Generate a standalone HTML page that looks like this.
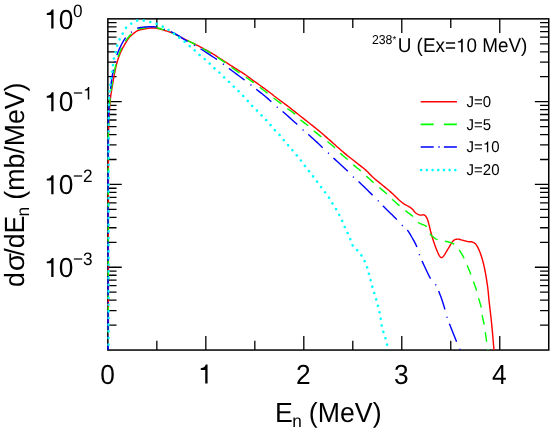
<!DOCTYPE html>
<html><head><meta charset="utf-8"><title>plot</title>
<style>html,body{margin:0;padding:0;background:#fff;}body{width:554px;height:431px;overflow:hidden;position:relative;font-family:"Liberation Sans",sans-serif;}</style>
</head><body>
<svg width="554" height="431" viewBox="0 0 554 431" style="position:absolute;left:0;top:0;will-change:transform">
<rect x="0" y="0" width="554" height="431" fill="#fff"/>
<rect x="107.85" y="18.85" width="440.90" height="331.20" fill="none" stroke="#000" stroke-width="1.5"/>
<path d="M156.84 350.05 V340.85 M156.84 18.85 V28.05 M205.83 350.05 V335.95 M205.83 18.85 V32.95 M254.82 350.05 V340.85 M254.82 18.85 V28.05 M303.81 350.05 V335.95 M303.81 18.85 V32.95 M352.79 350.05 V340.85 M352.79 18.85 V28.05 M401.78 350.05 V335.95 M401.78 18.85 V32.95 M450.77 350.05 V340.85 M450.77 18.85 V28.05 M499.76 350.05 V335.95 M499.76 18.85 V32.95 M107.85 76.72 H116.55 M548.75 76.72 H540.05 M107.85 62.14 H116.55 M548.75 62.14 H540.05 M107.85 51.80 H116.55 M548.75 51.80 H540.05 M107.85 43.78 H116.55 M548.75 43.78 H540.05 M107.85 37.22 H116.55 M548.75 37.22 H540.05 M107.85 31.68 H116.55 M548.75 31.68 H540.05 M107.85 26.87 H116.55 M548.75 26.87 H540.05 M107.85 22.64 H116.55 M548.75 22.64 H540.05 M107.85 101.65 H121.75 M548.75 101.65 H534.85 M107.85 159.52 H116.55 M548.75 159.52 H540.05 M107.85 144.94 H116.55 M548.75 144.94 H540.05 M107.85 134.60 H116.55 M548.75 134.60 H540.05 M107.85 126.58 H116.55 M548.75 126.58 H540.05 M107.85 120.02 H116.55 M548.75 120.02 H540.05 M107.85 114.48 H116.55 M548.75 114.48 H540.05 M107.85 109.67 H116.55 M548.75 109.67 H540.05 M107.85 105.44 H116.55 M548.75 105.44 H540.05 M107.85 184.45 H121.75 M548.75 184.45 H534.85 M107.85 242.32 H116.55 M548.75 242.32 H540.05 M107.85 227.74 H116.55 M548.75 227.74 H540.05 M107.85 217.40 H116.55 M548.75 217.40 H540.05 M107.85 209.38 H116.55 M548.75 209.38 H540.05 M107.85 202.82 H116.55 M548.75 202.82 H540.05 M107.85 197.28 H116.55 M548.75 197.28 H540.05 M107.85 192.47 H116.55 M548.75 192.47 H540.05 M107.85 188.24 H116.55 M548.75 188.24 H540.05 M107.85 267.25 H121.75 M548.75 267.25 H534.85 M107.85 325.12 H116.55 M548.75 325.12 H540.05 M107.85 310.54 H116.55 M548.75 310.54 H540.05 M107.85 300.20 H116.55 M548.75 300.20 H540.05 M107.85 292.18 H116.55 M548.75 292.18 H540.05 M107.85 285.62 H116.55 M548.75 285.62 H540.05 M107.85 280.08 H116.55 M548.75 280.08 H540.05 M107.85 275.27 H116.55 M548.75 275.27 H540.05 M107.85 271.04 H116.55 M548.75 271.04 H540.05" stroke="#000" stroke-width="1.3" fill="none"/>
<clipPath id="c"><rect x="106.64999999999999" y="18.85" width="442.10" height="332.00"/></clipPath>
<g clip-path="url(#c)" fill="none" stroke-linejoin="round">
<path d="M108.40 332.00 L108.40 321.39 L108.40 306.83 L108.39 289.44 L108.39 270.38 L108.39 250.76 L108.39 231.73 L108.39 214.44 L108.40 200.00 L108.41 188.00 L108.40 177.17 L108.40 167.39 L108.40 158.54 L108.41 150.49 L108.45 143.14 L108.51 136.35 L108.60 130.00 L108.73 124.34 L108.90 119.58 L109.09 115.57 L109.30 112.16 L109.52 109.19 L109.75 106.51 L109.98 103.96 L110.20 101.40 L110.41 98.99 L110.63 96.94 L110.85 95.19 L111.08 93.65 L111.30 92.24 L111.53 90.88 L111.76 89.49 L112.00 88.00 L112.24 86.45 L112.47 84.94 L112.71 83.47 L112.95 82.02 L113.20 80.58 L113.45 79.13 L113.72 77.68 L114.00 76.20 L114.29 74.68 L114.60 73.12 L114.92 71.54 L115.25 69.96 L115.58 68.40 L115.92 66.89 L116.26 65.45 L116.60 64.10 L116.93 62.85 L117.26 61.69 L117.58 60.59 L117.91 59.54 L118.25 58.52 L118.60 57.50 L118.99 56.47 L119.40 55.40 L119.84 54.30 L120.31 53.20 L120.79 52.09 L121.29 50.99 L121.82 49.88 L122.36 48.78 L122.92 47.69 L123.50 46.60 L124.12 45.49 L124.78 44.34 L125.47 43.18 L126.18 42.03 L126.88 40.92 L127.57 39.87 L128.21 38.93 L128.80 38.10 L129.33 37.41 L129.80 36.85 L130.24 36.38 L130.66 35.98 L131.07 35.62 L131.48 35.27 L131.92 34.91 L132.40 34.50 L132.92 34.05 L133.47 33.58 L134.04 33.11 L134.62 32.65 L135.20 32.21 L135.77 31.79 L136.30 31.42 L136.80 31.10 L137.25 30.84 L137.64 30.64 L138.01 30.48 L138.36 30.35 L138.72 30.24 L139.10 30.13 L139.52 30.03 L140.00 29.90 L140.55 29.76 L141.15 29.63 L141.79 29.50 L142.45 29.37 L143.12 29.24 L143.78 29.12 L144.41 29.01 L145.00 28.90 L145.55 28.79 L146.07 28.69 L146.57 28.59 L147.06 28.50 L147.54 28.41 L148.02 28.33 L148.51 28.26 L149.00 28.20 L149.51 28.15 L150.02 28.11 L150.54 28.07 L151.05 28.04 L151.56 28.02 L152.06 28.01 L152.54 28.00 L153.00 28.00 L153.42 28.00 L153.78 27.99 L154.11 27.98 L154.44 27.98 L154.79 28.00 L155.19 28.04 L155.65 28.10 L156.20 28.20 L156.84 28.33 L157.54 28.50 L158.30 28.68 L159.11 28.89 L159.96 29.12 L160.84 29.37 L161.76 29.63 L162.70 29.90 L163.70 30.19 L164.77 30.50 L165.90 30.82 L167.05 31.16 L168.20 31.51 L169.33 31.87 L170.40 32.24 L171.40 32.60 L172.31 32.96 L173.15 33.33 L173.95 33.69 L174.72 34.07 L175.48 34.45 L176.25 34.85 L177.05 35.27 L177.90 35.70 L178.79 36.16 L179.70 36.64 L180.63 37.13 L181.58 37.64 L182.54 38.16 L183.51 38.68 L184.50 39.19 L185.50 39.70 L186.52 40.20 L187.56 40.69 L188.61 41.18 L189.68 41.67 L190.76 42.16 L191.84 42.66 L192.92 43.18 L194.00 43.70 L195.08 44.24 L196.16 44.79 L197.25 45.34 L198.34 45.91 L199.44 46.48 L200.53 47.05 L201.62 47.62 L202.70 48.20 L203.78 48.77 L204.85 49.34 L205.93 49.91 L207.00 50.48 L208.07 51.06 L209.15 51.66 L210.22 52.27 L211.30 52.90 L212.38 53.56 L213.47 54.24 L214.56 54.93 L215.64 55.64 L216.73 56.36 L217.82 57.08 L218.91 57.79 L220.00 58.50 L221.09 59.20 L222.18 59.90 L223.27 60.60 L224.36 61.31 L225.44 62.01 L226.53 62.71 L227.62 63.40 L228.70 64.10 L229.79 64.80 L230.89 65.50 L231.99 66.20 L233.08 66.91 L234.17 67.60 L235.24 68.28 L236.28 68.95 L237.30 69.60 L238.27 70.21 L239.21 70.79 L240.11 71.35 L241.00 71.90 L241.89 72.46 L242.79 73.03 L243.73 73.64 L244.70 74.30 L245.72 75.01 L246.76 75.76 L247.83 76.55 L248.92 77.36 L250.01 78.17 L251.11 78.99 L252.21 79.81 L253.30 80.60 L254.38 81.38 L255.47 82.15 L256.56 82.92 L257.64 83.69 L258.73 84.46 L259.82 85.24 L260.91 86.02 L262.00 86.80 L263.11 87.61 L264.26 88.44 L265.42 89.29 L266.57 90.13 L267.69 90.96 L268.77 91.76 L269.78 92.51 L270.70 93.20 L271.46 93.78 L272.06 94.26 L272.56 94.66 L273.03 95.04 L273.53 95.45 L274.13 95.94 L274.90 96.54 L275.90 97.30 L277.14 98.23 L278.57 99.29 L280.14 100.45 L281.82 101.69 L283.58 102.99 L285.37 104.32 L287.15 105.67 L288.90 107.00 L290.63 108.34 L292.40 109.73 L294.19 111.15 L296.01 112.59 L297.83 114.04 L299.66 115.50 L301.49 116.96 L303.30 118.40 L305.12 119.84 L306.97 121.29 L308.83 122.75 L310.69 124.21 L312.53 125.66 L314.33 127.09 L316.10 128.51 L317.80 129.90 L319.42 131.25 L320.96 132.54 L322.45 133.81 L323.91 135.07 L325.36 136.35 L326.85 137.64 L328.39 138.99 L330.00 140.40 L331.69 141.89 L333.44 143.45 L335.23 145.05 L337.06 146.69 L338.90 148.33 L340.74 149.96 L342.58 151.55 L344.40 153.10 L346.26 154.63 L348.19 156.19 L350.15 157.75 L352.10 159.28 L353.99 160.76 L355.79 162.15 L357.44 163.44 L358.90 164.60 L360.15 165.59 L361.21 166.42 L362.13 167.13 L362.96 167.77 L363.72 168.37 L364.47 168.99 L365.25 169.65 L366.10 170.40 L366.99 171.23 L367.86 172.10 L368.72 172.99 L369.59 173.90 L370.47 174.82 L371.37 175.75 L372.31 176.68 L373.30 177.60 L374.34 178.51 L375.41 179.42 L376.53 180.34 L377.66 181.26 L378.82 182.18 L379.98 183.11 L381.14 184.05 L382.30 185.00 L383.45 185.95 L384.61 186.90 L385.76 187.86 L386.93 188.82 L388.11 189.81 L389.29 190.81 L390.49 191.84 L391.70 192.90 L392.93 194.03 L394.19 195.23 L395.47 196.47 L396.75 197.73 L398.03 198.97 L399.31 200.17 L400.57 201.29 L401.80 202.30 L403.04 203.21 L404.32 204.03 L405.60 204.79 L406.86 205.50 L408.08 206.17 L409.23 206.82 L410.27 207.46 L411.20 208.10 L411.98 208.75 L412.63 209.39 L413.19 210.01 L413.67 210.62 L414.11 211.20 L414.54 211.74 L415.00 212.24 L415.50 212.70 L416.04 213.11 L416.57 213.49 L417.11 213.83 L417.64 214.14 L418.18 214.41 L418.72 214.64 L419.26 214.84 L419.80 215.00 L420.36 215.09 L420.93 215.09 L421.51 215.03 L422.09 214.94 L422.66 214.87 L423.21 214.83 L423.73 214.86 L424.20 215.00 L424.63 215.22 L425.03 215.48 L425.39 215.79 L425.74 216.15 L426.06 216.57 L426.38 217.04 L426.69 217.59 L427.00 218.20 L427.30 218.90 L427.59 219.69 L427.87 220.55 L428.14 221.46 L428.41 222.42 L428.67 223.41 L428.93 224.41 L429.20 225.40 L429.46 226.39 L429.70 227.40 L429.93 228.42 L430.17 229.47 L430.41 230.55 L430.68 231.66 L430.97 232.81 L431.30 234.00 L431.67 235.27 L432.07 236.61 L432.51 238.00 L432.96 239.43 L433.42 240.85 L433.89 242.25 L434.35 243.61 L434.80 244.90 L435.25 246.15 L435.71 247.41 L436.18 248.65 L436.65 249.86 L437.11 251.00 L437.56 252.07 L437.99 253.05 L438.40 253.90 L438.78 254.65 L439.14 255.31 L439.48 255.88 L439.81 256.38 L440.13 256.78 L440.45 257.11 L440.77 257.35 L441.10 257.50 L441.43 257.57 L441.73 257.56 L442.03 257.46 L442.34 257.27 L442.66 257.01 L443.00 256.66 L443.38 256.22 L443.80 255.70 L444.28 255.06 L444.80 254.28 L445.36 253.40 L445.94 252.44 L446.53 251.44 L447.13 250.43 L447.73 249.44 L448.30 248.50 L448.86 247.56 L449.43 246.56 L449.99 245.54 L450.55 244.53 L451.11 243.56 L451.68 242.66 L452.24 241.86 L452.80 241.20 L453.36 240.67 L453.90 240.23 L454.44 239.89 L454.99 239.62 L455.54 239.42 L456.10 239.27 L456.69 239.17 L457.30 239.10 L457.94 239.09 L458.61 239.17 L459.29 239.30 L459.99 239.49 L460.70 239.70 L461.41 239.92 L462.11 240.12 L462.80 240.30 L463.49 240.46 L464.18 240.64 L464.87 240.82 L465.56 240.99 L466.25 241.17 L466.92 241.33 L467.57 241.48 L468.20 241.60 L468.81 241.69 L469.41 241.73 L469.99 241.75 L470.56 241.76 L471.12 241.78 L471.66 241.83 L472.19 241.93 L472.70 242.10 L473.19 242.31 L473.66 242.54 L474.12 242.79 L474.56 243.08 L474.99 243.43 L475.42 243.84 L475.86 244.32 L476.30 244.90 L476.75 245.56 L477.20 246.29 L477.65 247.08 L478.10 247.94 L478.55 248.88 L479.00 249.88 L479.45 250.95 L479.90 252.10 L480.36 253.33 L480.82 254.67 L481.29 256.08 L481.76 257.56 L482.22 259.08 L482.66 260.64 L483.09 262.22 L483.50 263.80 L483.89 265.41 L484.26 267.07 L484.62 268.77 L484.96 270.49 L485.29 272.22 L485.61 273.94 L485.91 275.64 L486.20 277.30 L486.47 278.94 L486.73 280.57 L486.97 282.19 L487.20 283.79 L487.42 285.38 L487.62 286.95 L487.81 288.49 L488.00 290.00 L488.16 291.40 L488.29 292.67 L488.41 293.87 L488.51 295.08 L488.62 296.34 L488.75 297.74 L488.91 299.34 L489.10 301.20 L489.34 303.32 L489.61 305.62 L489.90 308.10 L490.21 310.72 L490.54 313.47 L490.86 316.33 L491.19 319.28 L491.50 322.30 L491.82 325.64 L492.18 329.41 L492.54 333.42 L492.90 337.47 L493.24 341.35 L493.55 344.87 L493.81 347.82 L494.00 350.00" stroke="#ff0000" stroke-width="1.42"/>
<path d="M108.30 332.00 L108.30 321.39 L108.30 306.83 L108.30 289.44 L108.29 270.38 L108.29 250.76 L108.29 231.73 L108.30 214.44 L108.30 200.00 L108.30 188.00 L108.29 177.17 L108.27 167.39 L108.26 158.54 L108.26 150.49 L108.28 143.14 L108.32 136.35 L108.40 130.00 L108.51 124.34 L108.65 119.58 L108.82 115.57 L109.00 112.16 L109.20 109.19 L109.40 106.51 L109.60 103.96 L109.80 101.40 L110.00 98.99 L110.20 96.94 L110.41 95.19 L110.62 93.65 L110.83 92.24 L111.05 90.88 L111.28 89.49 L111.50 88.00 L111.72 86.45 L111.94 84.94 L112.17 83.47 L112.39 82.02 L112.63 80.58 L112.87 79.13 L113.13 77.68 L113.40 76.20 L113.69 74.68 L114.00 73.12 L114.32 71.54 L114.66 69.96 L114.99 68.40 L115.33 66.89 L115.67 65.45 L116.00 64.10 L116.31 62.86 L116.61 61.72 L116.90 60.65 L117.20 59.62 L117.51 58.62 L117.84 57.59 L118.20 56.53 L118.60 55.40 L119.04 54.18 L119.52 52.91 L120.03 51.59 L120.56 50.26 L121.11 48.94 L121.67 47.65 L122.24 46.43 L122.80 45.30 L123.38 44.24 L123.98 43.22 L124.60 42.25 L125.22 41.32 L125.85 40.45 L126.46 39.61 L127.04 38.83 L127.60 38.10 L128.11 37.44 L128.58 36.85 L129.03 36.33 L129.46 35.85 L129.90 35.39 L130.36 34.95 L130.86 34.49 L131.40 34.00 L132.01 33.48 L132.69 32.93 L133.40 32.37 L134.14 31.82 L134.87 31.29 L135.57 30.80 L136.22 30.37 L136.80 30.00 L137.29 29.71 L137.71 29.50 L138.08 29.34 L138.43 29.21 L138.76 29.11 L139.12 29.02 L139.53 28.92 L140.00 28.80 L140.55 28.66 L141.15 28.52 L141.79 28.39 L142.45 28.26 L143.12 28.13 L143.78 28.01 L144.41 27.90 L145.00 27.80 L145.55 27.71 L146.07 27.63 L146.57 27.56 L147.06 27.49 L147.54 27.44 L148.02 27.39 L148.51 27.34 L149.00 27.30 L149.51 27.27 L150.02 27.24 L150.54 27.22 L151.05 27.20 L151.56 27.19 L152.06 27.19 L152.54 27.19 L153.00 27.20 L153.42 27.21 L153.78 27.21 L154.11 27.21 L154.44 27.22 L154.79 27.25 L155.19 27.30 L155.65 27.38 L156.20 27.50 L156.84 27.65 L157.54 27.83 L158.30 28.04 L159.11 28.28 L159.96 28.53 L160.84 28.80 L161.76 29.09 L162.70 29.40 L163.70 29.73 L164.77 30.09 L165.90 30.47 L167.05 30.87 L168.20 31.28 L169.33 31.69 L170.40 32.10 L171.40 32.50 L172.31 32.89 L173.15 33.27 L173.95 33.66 L174.72 34.04 L175.48 34.44 L176.25 34.84 L177.05 35.26 L177.90 35.70 L178.79 36.16 L179.70 36.64 L180.63 37.14 L181.58 37.64 L182.54 38.16 L183.51 38.67 L184.50 39.19 L185.50 39.70 L186.52 40.20 L187.56 40.70 L188.61 41.20 L189.68 41.70 L190.76 42.21 L191.84 42.72 L192.92 43.25 L194.00 43.80 L195.08 44.37 L196.16 44.95 L197.25 45.54 L198.34 46.14 L199.44 46.75 L200.53 47.37 L201.62 47.99 L202.70 48.60 L203.77 49.20 L204.81 49.80 L205.85 50.39 L206.89 50.98 L207.94 51.59 L209.02 52.23 L210.13 52.89 L211.30 53.60 L212.50 54.34 L213.73 55.09 L214.99 55.87 L216.28 56.67 L217.60 57.52 L218.95 58.40 L220.35 59.32 L221.80 60.30 L223.30 61.34 L224.84 62.45 L226.43 63.61 L228.06 64.81 L229.71 66.03 L231.39 67.26 L233.09 68.49 L234.80 69.70 L236.53 70.90 L238.30 72.10 L240.10 73.31 L241.91 74.52 L243.74 75.74 L245.57 76.98 L247.39 78.23 L249.20 79.50 L251.03 80.82 L252.92 82.19 L254.82 83.59 L256.71 84.99 L258.57 86.38 L260.35 87.73 L262.04 89.01 L263.60 90.20 L265.02 91.30 L266.34 92.34 L267.56 93.32 L268.71 94.26 L269.80 95.15 L270.87 96.02 L271.93 96.87 L273.00 97.70 L274.07 98.51 L275.13 99.30 L276.16 100.05 L277.17 100.78 L278.16 101.49 L279.11 102.17 L280.02 102.84 L280.90 103.50 L281.71 104.12 L282.45 104.71 L283.13 105.26 L283.79 105.80 L284.46 106.34 L285.14 106.89 L285.88 107.48 L286.70 108.10 L287.61 108.77 L288.60 109.47 L289.64 110.19 L290.71 110.92 L291.77 111.67 L292.81 112.42 L293.80 113.17 L294.70 113.90 L295.51 114.63 L296.25 115.35 L296.94 116.08 L297.59 116.81 L298.25 117.53 L298.92 118.26 L299.63 118.98 L300.40 119.70 L301.25 120.42 L302.15 121.15 L303.09 121.87 L304.05 122.59 L305.01 123.31 L305.95 124.02 L306.85 124.72 L307.70 125.40 L308.48 126.06 L309.20 126.70 L309.89 127.33 L310.56 127.94 L311.22 128.56 L311.91 129.19 L312.63 129.83 L313.40 130.50 L314.23 131.20 L315.11 131.92 L316.02 132.66 L316.95 133.41 L317.89 134.15 L318.81 134.89 L319.72 135.61 L320.60 136.30 L321.44 136.96 L322.26 137.58 L323.06 138.19 L323.85 138.79 L324.64 139.39 L325.44 140.00 L326.26 140.63 L327.10 141.30 L327.98 142.00 L328.88 142.73 L329.81 143.49 L330.74 144.25 L331.67 145.02 L332.58 145.79 L333.46 146.55 L334.30 147.30 L335.08 148.03 L335.82 148.75 L336.52 149.47 L337.20 150.19 L337.88 150.90 L338.58 151.63 L339.32 152.36 L340.10 153.10 L340.94 153.86 L341.83 154.64 L342.76 155.44 L343.70 156.23 L344.64 157.02 L345.57 157.80 L346.46 158.57 L347.30 159.30 L348.08 160.00 L348.81 160.67 L349.50 161.31 L350.18 161.95 L350.86 162.59 L351.56 163.23 L352.30 163.90 L353.10 164.60 L353.97 165.34 L354.90 166.11 L355.86 166.89 L356.85 167.69 L357.84 168.49 L358.80 169.29 L359.73 170.06 L360.60 170.80 L361.40 171.51 L362.14 172.19 L362.85 172.85 L363.54 173.50 L364.22 174.15 L364.91 174.81 L365.63 175.49 L366.40 176.20 L367.22 176.94 L368.07 177.72 L368.94 178.51 L369.83 179.31 L370.72 180.11 L371.61 180.90 L372.47 181.67 L373.30 182.40 L374.09 183.09 L374.86 183.75 L375.60 184.38 L376.33 185.01 L377.07 185.63 L377.82 186.26 L378.59 186.91 L379.40 187.60 L380.26 188.32 L381.16 189.07 L382.08 189.84 L383.02 190.62 L383.95 191.40 L384.87 192.18 L385.76 192.95 L386.60 193.70 L387.38 194.43 L388.12 195.13 L388.82 195.83 L389.50 196.52 L390.18 197.22 L390.88 197.93 L391.62 198.65 L392.40 199.40 L393.24 200.18 L394.12 201.00 L395.04 201.84 L395.97 202.69 L396.91 203.53 L397.84 204.35 L398.74 205.15 L399.60 205.90 L400.42 206.60 L401.20 207.26 L401.95 207.90 L402.70 208.51 L403.45 209.12 L404.20 209.73 L404.98 210.35 L405.80 211.00 L406.66 211.66 L407.57 212.34 L408.51 213.01 L409.45 213.69 L410.39 214.38 L411.30 215.08 L412.18 215.79 L413.00 216.50 L413.77 217.25 L414.52 218.06 L415.24 218.90 L415.92 219.73 L416.59 220.54 L417.22 221.28 L417.82 221.95 L418.40 222.50 L418.93 222.92 L419.41 223.23 L419.85 223.46 L420.27 223.63 L420.68 223.77 L421.09 223.91 L421.53 224.08 L422.00 224.30 L422.51 224.53 L423.04 224.73 L423.59 224.92 L424.15 225.13 L424.71 225.37 L425.26 225.68 L425.79 226.08 L426.30 226.60 L426.79 227.28 L427.26 228.11 L427.72 229.05 L428.17 230.04 L428.62 231.05 L429.05 232.01 L429.48 232.87 L429.90 233.60 L430.30 234.19 L430.69 234.68 L431.06 235.10 L431.42 235.47 L431.79 235.81 L432.17 236.13 L432.57 236.45 L433.00 236.80 L433.44 237.16 L433.88 237.52 L434.32 237.86 L434.79 238.20 L435.28 238.52 L435.83 238.83 L436.43 239.13 L437.10 239.40 L437.85 239.64 L438.67 239.85 L439.55 240.03 L440.48 240.21 L441.44 240.38 L442.42 240.56 L443.41 240.76 L444.40 241.00 L445.42 241.25 L446.49 241.50 L447.60 241.76 L448.72 242.04 L449.82 242.34 L450.89 242.68 L451.89 243.06 L452.80 243.50 L453.62 243.98 L454.36 244.48 L455.04 245.02 L455.68 245.59 L456.30 246.22 L456.91 246.91 L457.54 247.67 L458.20 248.50 L458.90 249.44 L459.61 250.49 L460.34 251.62 L461.06 252.81 L461.77 254.02 L462.46 255.22 L463.10 256.39 L463.70 257.50 L464.24 258.55 L464.73 259.57 L465.19 260.56 L465.62 261.55 L466.03 262.54 L466.44 263.53 L466.86 264.55 L467.30 265.60 L467.76 266.69 L468.22 267.83 L468.69 268.98 L469.16 270.15 L469.62 271.31 L470.06 272.45 L470.49 273.55 L470.90 274.60 L471.28 275.58 L471.63 276.50 L471.96 277.39 L472.28 278.25 L472.60 279.11 L472.92 280.00 L473.25 280.92 L473.60 281.90 L473.98 282.96 L474.38 284.07 L474.79 285.23 L475.21 286.41 L475.62 287.59 L476.01 288.74 L476.37 289.85 L476.70 290.90 L476.98 291.86 L477.22 292.75 L477.43 293.59 L477.62 294.41 L477.81 295.23 L478.01 296.09 L478.24 297.00 L478.50 298.00 L478.82 299.10 L479.18 300.30 L479.56 301.55 L479.96 302.84 L480.35 304.12 L480.72 305.38 L481.04 306.58 L481.30 307.70 L481.49 308.70 L481.61 309.62 L481.68 310.47 L481.73 311.29 L481.78 312.13 L481.84 313.00 L481.94 313.95 L482.10 315.00 L482.32 316.19 L482.60 317.50 L482.91 318.88 L483.24 320.30 L483.57 321.72 L483.88 323.10 L484.16 324.41 L484.40 325.60 L484.58 326.65 L484.73 327.60 L484.85 328.47 L484.96 329.31 L485.05 330.13 L485.15 330.98 L485.26 331.90 L485.40 332.90 L485.56 334.01 L485.73 335.21 L485.90 336.46 L486.09 337.74 L486.27 339.03 L486.45 340.28 L486.63 341.48 L486.80 342.60 L486.97 343.69 L487.14 344.79 L487.32 345.87 L487.49 346.91 L487.65 347.87 L487.79 348.72 L487.91 349.44 L488.00 350.00" stroke="#00ff00" stroke-width="1.42" stroke-dasharray="9.8 7.561" stroke-dashoffset="1.83"/>
<path d="M108.10 350.00 L108.10 337.85 L108.10 321.05 L108.10 301.00 L108.09 279.06 L108.09 256.62 L108.09 235.04 L108.10 215.71 L108.10 200.00 L108.10 187.59 L108.10 177.04 L108.09 168.02 L108.09 160.22 L108.09 153.34 L108.11 147.05 L108.14 141.04 L108.20 135.00 L108.28 129.16 L108.38 123.92 L108.49 119.21 L108.62 114.97 L108.76 111.14 L108.90 107.64 L109.05 104.42 L109.20 101.40 L109.35 98.75 L109.52 96.59 L109.69 94.83 L109.86 93.34 L110.04 92.02 L110.23 90.76 L110.41 89.46 L110.60 88.00 L110.78 86.45 L110.97 84.94 L111.15 83.47 L111.34 82.02 L111.53 80.58 L111.74 79.13 L111.96 77.68 L112.20 76.20 L112.46 74.69 L112.74 73.15 L113.03 71.60 L113.33 70.04 L113.64 68.50 L113.96 66.99 L114.28 65.52 L114.60 64.10 L114.91 62.74 L115.22 61.42 L115.52 60.14 L115.84 58.89 L116.16 57.66 L116.51 56.44 L116.89 55.22 L117.30 54.00 L117.75 52.77 L118.24 51.53 L118.76 50.29 L119.29 49.06 L119.84 47.86 L120.40 46.69 L120.96 45.57 L121.50 44.50 L122.03 43.48 L122.56 42.51 L123.10 41.57 L123.63 40.68 L124.18 39.81 L124.73 38.98 L125.31 38.18 L125.90 37.40 L126.52 36.66 L127.15 35.96 L127.80 35.29 L128.46 34.65 L129.13 34.04 L129.81 33.44 L130.50 32.87 L131.20 32.30 L131.92 31.73 L132.68 31.17 L133.46 30.62 L134.24 30.09 L135.01 29.59 L135.75 29.14 L136.45 28.74 L137.10 28.40 L137.68 28.14 L138.21 27.95 L138.70 27.83 L139.17 27.74 L139.62 27.68 L140.06 27.63 L140.52 27.57 L141.00 27.50 L141.49 27.42 L141.97 27.34 L142.45 27.27 L142.93 27.21 L143.42 27.15 L143.93 27.09 L144.45 27.05 L145.00 27.00 L145.57 26.96 L146.17 26.92 L146.78 26.89 L147.41 26.86 L148.04 26.83 L148.69 26.81 L149.34 26.80 L150.00 26.80 L150.65 26.79 L151.30 26.78 L151.95 26.78 L152.61 26.77 L153.29 26.79 L153.99 26.83 L154.73 26.90 L155.50 27.00 L156.31 27.14 L157.15 27.31 L158.01 27.50 L158.90 27.72 L159.82 27.96 L160.75 28.22 L161.72 28.50 L162.70 28.80 L163.73 29.12 L164.82 29.48 L165.95 29.85 L167.09 30.25 L168.23 30.66 L169.34 31.07 L170.41 31.49 L171.40 31.90 L172.31 32.30 L173.15 32.69 L173.95 33.09 L174.72 33.49 L175.48 33.90 L176.25 34.34 L177.05 34.80 L177.90 35.30 L178.79 35.84 L179.70 36.42 L180.62 37.02 L181.56 37.65 L182.52 38.29 L183.50 38.93 L184.49 39.57 L185.50 40.20 L186.55 40.83 L187.65 41.47 L188.77 42.12 L189.91 42.77 L191.04 43.41 L192.15 44.03 L193.21 44.63 L194.20 45.20 L195.06 45.69 L195.78 46.08 L196.42 46.43 L197.05 46.77 L197.74 47.15 L198.55 47.62 L199.54 48.22 L200.80 49.00 L202.41 50.02 L204.35 51.25 L206.51 52.64 L208.78 54.10 L211.04 55.57 L213.19 56.97 L215.11 58.24 L216.70 59.30 L217.94 60.15 L218.93 60.85 L219.74 61.44 L220.41 61.96 L221.01 62.43 L221.58 62.88 L222.20 63.36 L222.90 63.90 L223.61 64.43 L224.22 64.89 L224.79 65.33 L225.39 65.78 L226.05 66.28 L226.84 66.88 L227.80 67.60 L229.00 68.50 L230.53 69.64 L232.37 71.01 L234.43 72.54 L236.59 74.14 L238.76 75.75 L240.82 77.28 L242.67 78.66 L244.20 79.80 L245.41 80.70 L246.39 81.43 L247.19 82.04 L247.87 82.55 L248.49 83.01 L249.07 83.47 L249.70 83.95 L250.40 84.50 L251.15 85.10 L251.89 85.69 L252.61 86.29 L253.34 86.89 L254.07 87.50 L254.82 88.12 L255.59 88.75 L256.40 89.40 L257.24 90.06 L258.12 90.74 L259.01 91.42 L259.93 92.12 L260.85 92.83 L261.77 93.54 L262.69 94.27 L263.60 95.00 L264.51 95.75 L265.43 96.52 L266.36 97.31 L267.29 98.11 L268.20 98.90 L269.10 99.69 L269.97 100.45 L270.80 101.20 L271.59 101.93 L272.35 102.65 L273.08 103.35 L273.79 104.05 L274.49 104.73 L275.18 105.40 L275.88 106.06 L276.60 106.70 L277.27 107.26 L277.85 107.72 L278.40 108.13 L278.96 108.55 L279.60 109.02 L280.35 109.60 L281.26 110.34 L282.40 111.30 L283.85 112.55 L285.60 114.08 L287.56 115.79 L289.62 117.61 L291.67 119.42 L293.62 121.16 L295.37 122.71 L296.80 124.00 L297.91 125.02 L298.79 125.85 L299.49 126.53 L300.07 127.12 L300.58 127.65 L301.09 128.16 L301.64 128.69 L302.30 129.30 L303.00 129.92 L303.66 130.48 L304.31 131.02 L304.97 131.58 L305.69 132.17 L306.48 132.83 L307.38 133.60 L308.40 134.50 L309.57 135.55 L310.86 136.71 L312.25 137.97 L313.72 139.30 L315.24 140.69 L316.79 142.12 L318.35 143.56 L319.90 145.00 L321.44 146.45 L323.00 147.94 L324.59 149.45 L326.20 151.00 L327.83 152.57 L329.50 154.16 L331.18 155.77 L332.90 157.40 L334.72 159.11 L336.68 160.93 L338.71 162.81 L340.74 164.69 L342.72 166.52 L344.56 168.24 L346.21 169.78 L347.60 171.10 L348.69 172.17 L349.54 173.03 L350.20 173.72 L350.73 174.31 L351.18 174.82 L351.62 175.31 L352.11 175.82 L352.70 176.40 L353.31 176.96 L353.84 177.42 L354.35 177.84 L354.88 178.27 L355.48 178.76 L356.20 179.38 L357.09 180.17 L358.20 181.20 L359.62 182.55 L361.35 184.22 L363.29 186.09 L365.32 188.07 L367.36 190.06 L369.29 191.94 L371.00 193.62 L372.40 195.00 L373.47 196.06 L374.31 196.89 L374.96 197.56 L375.49 198.11 L375.96 198.59 L376.41 199.07 L376.91 199.58 L377.50 200.20 L378.11 200.84 L378.65 201.41 L379.17 201.96 L379.71 202.53 L380.32 203.17 L381.04 203.91 L381.92 204.81 L383.00 205.90 L384.38 207.27 L386.05 208.91 L387.91 210.74 L389.88 212.66 L391.83 214.57 L393.69 216.40 L395.34 218.04 L396.70 219.40 L397.74 220.48 L398.57 221.36 L399.22 222.09 L399.75 222.71 L400.22 223.27 L400.68 223.81 L401.19 224.37 L401.80 225.00 L402.49 225.66 L403.21 226.30 L403.95 226.93 L404.69 227.55 L405.42 228.19 L406.15 228.85 L406.84 229.55 L407.50 230.30 L408.12 231.10 L408.71 231.94 L409.28 232.80 L409.82 233.70 L410.37 234.62 L410.90 235.56 L411.45 236.52 L412.00 237.50 L412.58 238.50 L413.17 239.55 L413.77 240.62 L414.37 241.71 L414.95 242.80 L415.51 243.89 L416.03 244.96 L416.50 246.00 L416.91 247.02 L417.27 248.03 L417.60 249.04 L417.89 250.03 L418.18 251.02 L418.47 251.99 L418.77 252.95 L419.10 253.90 L419.42 254.77 L419.70 255.52 L419.97 256.22 L420.25 256.93 L420.58 257.71 L420.98 258.62 L421.47 259.73 L422.10 261.10 L422.90 262.85 L423.87 264.96 L424.96 267.31 L426.11 269.78 L427.27 272.23 L428.39 274.54 L429.42 276.57 L430.30 278.20 L431.05 279.40 L431.71 280.27 L432.30 280.90 L432.84 281.37 L433.34 281.76 L433.83 282.16 L434.31 282.64 L434.80 283.30 L435.29 284.08 L435.76 284.90 L436.22 285.75 L436.66 286.62 L437.09 287.54 L437.52 288.49 L437.96 289.48 L438.40 290.50 L438.86 291.58 L439.32 292.72 L439.79 293.92 L440.25 295.14 L440.71 296.37 L441.16 297.61 L441.59 298.82 L442.00 300.00 L442.40 301.16 L442.78 302.34 L443.15 303.51 L443.51 304.67 L443.86 305.81 L444.19 306.92 L444.50 307.98 L444.80 309.00 L445.07 309.95 L445.30 310.83 L445.51 311.67 L445.71 312.48 L445.90 313.28 L446.11 314.09 L446.34 314.92 L446.60 315.80 L446.86 316.65 L447.10 317.41 L447.34 318.16 L447.61 318.93 L447.91 319.80 L448.28 320.81 L448.74 322.02 L449.30 323.50 L450.02 325.36 L450.91 327.61 L451.90 330.10 L452.94 332.73 L453.99 335.34 L454.98 337.81 L455.87 340.00 L456.60 341.80 L457.18 343.21 L457.67 344.37 L458.08 345.31 L458.42 346.09 L458.71 346.73 L458.96 347.29 L459.19 347.80 L459.40 348.30 L459.58 348.75 L459.72 349.10 L459.81 349.36 L459.87 349.56 L459.92 349.70 L459.94 349.81 L459.97 349.90 L460.00 350.00" stroke="#0000ff" stroke-width="1.42" stroke-dasharray="19.6 7.46 1.2 6.191" stroke-dashoffset="14.44"/>
<path d="M108.60 350.00 L108.60 337.88 L108.60 321.17 L108.60 301.22 L108.59 279.38 L108.59 256.98 L108.59 235.39 L108.60 215.95 L108.60 200.00 L108.61 187.14 L108.61 175.90 L108.62 166.07 L108.63 157.41 L108.64 149.70 L108.66 142.71 L108.68 136.22 L108.70 130.00 L108.72 124.36 L108.74 119.65 L108.76 115.71 L108.78 112.35 L108.81 109.41 L108.86 106.72 L108.92 104.11 L109.00 101.40 L109.10 98.75 L109.22 96.38 L109.35 94.24 L109.49 92.27 L109.65 90.42 L109.82 88.62 L110.01 86.84 L110.20 85.00 L110.41 83.16 L110.65 81.38 L110.90 79.65 L111.16 77.96 L111.43 76.29 L111.70 74.63 L111.95 72.97 L112.20 71.30 L112.43 69.57 L112.66 67.80 L112.89 66.00 L113.11 64.22 L113.33 62.50 L113.55 60.87 L113.78 59.35 L114.00 58.00 L114.23 56.83 L114.46 55.81 L114.69 54.91 L114.92 54.10 L115.15 53.35 L115.37 52.62 L115.59 51.88 L115.80 51.10 L115.99 50.30 L116.17 49.52 L116.34 48.76 L116.50 48.01 L116.67 47.26 L116.85 46.51 L117.06 45.76 L117.30 45.00 L117.57 44.23 L117.86 43.45 L118.17 42.66 L118.50 41.88 L118.84 41.10 L119.19 40.32 L119.54 39.56 L119.90 38.80 L120.26 38.06 L120.63 37.32 L121.01 36.59 L121.40 35.87 L121.79 35.15 L122.19 34.43 L122.59 33.72 L123.00 33.00 L123.40 32.27 L123.78 31.53 L124.17 30.78 L124.56 30.03 L124.97 29.30 L125.41 28.60 L125.88 27.93 L126.40 27.30 L126.97 26.72 L127.58 26.18 L128.23 25.66 L128.90 25.17 L129.59 24.71 L130.30 24.26 L131.00 23.83 L131.70 23.40 L132.40 22.97 L133.10 22.53 L133.82 22.11 L134.54 21.70 L135.27 21.32 L136.00 20.99 L136.75 20.71 L137.50 20.50 L138.26 20.36 L139.04 20.28 L139.82 20.26 L140.61 20.28 L141.40 20.34 L142.20 20.41 L143.00 20.50 L143.80 20.60 L144.60 20.71 L145.42 20.85 L146.24 21.01 L147.06 21.19 L147.88 21.38 L148.69 21.58 L149.50 21.79 L150.30 22.00 L151.09 22.21 L151.88 22.43 L152.66 22.65 L153.43 22.88 L154.20 23.12 L154.97 23.37 L155.74 23.63 L156.50 23.90 L157.26 24.18 L158.02 24.46 L158.77 24.75 L159.52 25.05 L160.27 25.36 L161.01 25.69 L161.76 26.04 L162.50 26.40 L163.25 26.79 L163.99 27.20 L164.74 27.63 L165.49 28.07 L166.23 28.53 L166.96 28.99 L167.69 29.45 L168.40 29.90 L169.10 30.35 L169.79 30.81 L170.46 31.26 L171.13 31.73 L171.80 32.19 L172.46 32.66 L173.13 33.13 L173.80 33.60 L174.48 34.08 L175.15 34.56 L175.83 35.04 L176.51 35.53 L177.19 36.02 L177.86 36.51 L178.53 37.01 L179.20 37.50 L179.86 37.99 L180.52 38.48 L181.17 38.98 L181.82 39.47 L182.47 39.97 L183.11 40.47 L183.76 40.98 L184.40 41.50 L185.04 42.03 L185.69 42.58 L186.33 43.13 L186.97 43.69 L187.61 44.25 L188.24 44.80 L188.87 45.36 L189.50 45.90 L190.12 46.43 L190.74 46.96 L191.36 47.48 L191.97 47.99 L192.58 48.51 L193.19 49.03 L193.79 49.56 L194.40 50.10 L195.00 50.65 L195.60 51.21 L196.19 51.78 L196.78 52.35 L197.38 52.92 L197.97 53.49 L198.58 54.05 L199.20 54.60 L199.83 55.14 L200.47 55.66 L201.13 56.18 L201.78 56.69 L202.44 57.21 L203.10 57.73 L203.75 58.26 L204.40 58.80 L205.04 59.35 L205.69 59.92 L206.33 60.49 L206.98 61.06 L207.61 61.64 L208.25 62.23 L208.88 62.81 L209.50 63.40 L210.11 63.99 L210.72 64.60 L211.31 65.21 L211.91 65.82 L212.50 66.43 L213.09 67.03 L213.69 67.62 L214.30 68.20 L214.92 68.76 L215.55 69.30 L216.18 69.83 L216.81 70.36 L217.45 70.88 L218.07 71.41 L218.69 71.95 L219.30 72.50 L219.89 73.07 L220.47 73.65 L221.05 74.25 L221.61 74.84 L222.18 75.44 L222.75 76.04 L223.32 76.62 L223.90 77.20 L224.49 77.76 L225.09 78.31 L225.69 78.86 L226.29 79.40 L226.89 79.94 L227.50 80.49 L228.10 81.04 L228.70 81.60 L229.30 82.17 L229.90 82.75 L230.49 83.34 L231.09 83.92 L231.69 84.52 L232.29 85.11 L232.89 85.71 L233.50 86.30 L234.12 86.90 L234.75 87.50 L235.38 88.10 L236.02 88.71 L236.65 89.31 L237.28 89.91 L237.90 90.51 L238.50 91.10 L239.09 91.68 L239.66 92.25 L240.22 92.82 L240.78 93.38 L241.33 93.95 L241.89 94.52 L242.44 95.10 L243.00 95.70 L243.56 96.32 L244.12 96.95 L244.69 97.59 L245.25 98.24 L245.81 98.89 L246.38 99.53 L246.94 100.17 L247.50 100.80 L248.06 101.42 L248.62 102.02 L249.18 102.63 L249.74 103.22 L250.30 103.82 L250.86 104.41 L251.43 105.01 L252.00 105.60 L252.58 106.19 L253.16 106.78 L253.75 107.36 L254.34 107.94 L254.93 108.53 L255.52 109.11 L256.11 109.70 L256.70 110.30 L257.29 110.90 L257.88 111.51 L258.46 112.12 L259.05 112.74 L259.64 113.35 L260.22 113.97 L260.81 114.59 L261.40 115.20 L261.99 115.81 L262.58 116.43 L263.18 117.05 L263.77 117.66 L264.37 118.28 L264.95 118.89 L265.53 119.50 L266.10 120.10 L266.66 120.69 L267.20 121.27 L267.74 121.85 L268.27 122.42 L268.80 123.00 L269.33 123.58 L269.86 124.18 L270.40 124.80 L270.94 125.45 L271.49 126.12 L272.04 126.81 L272.59 127.51 L273.14 128.21 L273.69 128.90 L274.24 129.56 L274.80 130.20 L275.36 130.80 L275.92 131.37 L276.49 131.92 L277.06 132.46 L277.62 132.99 L278.19 133.54 L278.75 134.11 L279.30 134.70 L279.85 135.33 L280.39 135.98 L280.92 136.64 L281.46 137.32 L281.99 138.00 L282.52 138.68 L283.06 139.35 L283.60 140.00 L284.15 140.64 L284.70 141.27 L285.25 141.89 L285.80 142.51 L286.35 143.13 L286.90 143.75 L287.45 144.37 L288.00 145.00 L288.54 145.63 L289.08 146.27 L289.62 146.91 L290.16 147.56 L290.70 148.20 L291.23 148.84 L291.77 149.47 L292.30 150.10 L292.83 150.72 L293.35 151.33 L293.88 151.93 L294.40 152.53 L294.92 153.13 L295.45 153.74 L295.97 154.36 L296.50 155.00 L297.04 155.65 L297.58 156.32 L298.12 157.00 L298.67 157.68 L299.21 158.37 L299.75 159.05 L300.28 159.73 L300.80 160.40 L301.30 161.06 L301.80 161.71 L302.28 162.36 L302.76 163.00 L303.23 163.64 L303.71 164.29 L304.20 164.94 L304.70 165.60 L305.21 166.27 L305.73 166.94 L306.26 167.62 L306.79 168.31 L307.33 168.99 L307.86 169.67 L308.38 170.34 L308.90 171.00 L309.41 171.65 L309.91 172.29 L310.41 172.92 L310.91 173.55 L311.40 174.18 L311.90 174.81 L312.40 175.45 L312.90 176.10 L313.41 176.76 L313.92 177.43 L314.43 178.10 L314.95 178.78 L315.47 179.46 L315.98 180.14 L316.49 180.82 L317.00 181.50 L317.50 182.18 L318.00 182.85 L318.50 183.53 L319.00 184.20 L319.50 184.88 L320.00 185.55 L320.50 186.22 L321.00 186.90 L321.51 187.57 L322.02 188.25 L322.53 188.92 L323.05 189.59 L323.57 190.27 L324.08 190.94 L324.59 191.62 L325.10 192.30 L325.61 192.98 L326.12 193.67 L326.64 194.35 L327.15 195.04 L327.66 195.73 L328.15 196.42 L328.63 197.11 L329.10 197.80 L329.54 198.50 L329.97 199.20 L330.38 199.90 L330.78 200.61 L331.18 201.31 L331.58 202.01 L331.98 202.71 L332.40 203.40 L332.83 204.08 L333.27 204.75 L333.71 205.42 L334.16 206.09 L334.60 206.75 L335.04 207.43 L335.48 208.11 L335.90 208.80 L336.32 209.50 L336.73 210.21 L337.13 210.93 L337.53 211.65 L337.93 212.38 L338.32 213.11 L338.71 213.85 L339.10 214.60 L339.49 215.36 L339.87 216.12 L340.26 216.90 L340.64 217.68 L341.01 218.46 L341.38 219.25 L341.75 220.03 L342.10 220.80 L342.44 221.57 L342.77 222.33 L343.09 223.10 L343.41 223.86 L343.72 224.62 L344.04 225.38 L344.36 226.14 L344.70 226.90 L345.05 227.65 L345.41 228.40 L345.78 229.15 L346.15 229.90 L346.52 230.65 L346.89 231.40 L347.25 232.15 L347.60 232.90 L347.94 233.66 L348.28 234.42 L348.61 235.18 L348.94 235.94 L349.26 236.71 L349.58 237.47 L349.89 238.24 L350.20 239.00 L350.49 239.77 L350.74 240.55 L350.98 241.34 L351.22 242.12 L351.48 242.89 L351.77 243.65 L352.10 244.39 L352.50 245.10 L352.97 245.78 L353.50 246.43 L354.08 247.06 L354.69 247.67 L355.31 248.27 L355.93 248.88 L356.53 249.48 L357.10 250.10 L357.64 250.72 L358.18 251.33 L358.71 251.94 L359.23 252.55 L359.74 253.17 L360.24 253.79 L360.73 254.44 L361.20 255.10 L361.66 255.78 L362.10 256.48 L362.53 257.19 L362.94 257.92 L363.35 258.65 L363.74 259.40 L364.13 260.15 L364.50 260.90 L364.86 261.66 L365.22 262.43 L365.56 263.21 L365.89 263.99 L366.21 264.79 L366.52 265.59 L366.82 266.39 L367.10 267.20 L367.36 268.02 L367.61 268.86 L367.84 269.71 L368.06 270.56 L368.27 271.41 L368.48 272.26 L368.69 273.09 L368.90 273.90 L369.11 274.69 L369.31 275.45 L369.51 276.20 L369.70 276.94 L369.89 277.69 L370.09 278.44 L370.29 279.21 L370.50 280.00 L370.71 280.82 L370.93 281.66 L371.15 282.51 L371.38 283.38 L371.60 284.24 L371.83 285.10 L372.06 285.96 L372.30 286.80 L372.54 287.63 L372.79 288.45 L373.04 289.27 L373.29 290.08 L373.55 290.89 L373.80 291.70 L374.05 292.50 L374.30 293.30 L374.54 294.10 L374.78 294.88 L375.02 295.67 L375.26 296.45 L375.50 297.23 L375.73 298.02 L375.97 298.80 L376.20 299.60 L376.43 300.40 L376.66 301.21 L376.89 302.02 L377.12 302.84 L377.34 303.65 L377.57 304.47 L377.79 305.29 L378.00 306.10 L378.21 306.91 L378.42 307.72 L378.63 308.53 L378.84 309.34 L379.04 310.15 L379.23 310.96 L379.42 311.78 L379.60 312.60 L379.77 313.43 L379.93 314.27 L380.09 315.11 L380.24 315.95 L380.38 316.79 L380.52 317.63 L380.66 318.47 L380.80 319.30 L380.93 320.12 L381.05 320.94 L381.16 321.75 L381.27 322.56 L381.38 323.37 L381.51 324.18 L381.64 324.99 L381.80 325.80 L381.98 326.61 L382.17 327.43 L382.37 328.25 L382.59 329.06 L382.81 329.88 L383.04 330.69 L383.27 331.50 L383.50 332.30 L383.74 333.10 L383.99 333.88 L384.25 334.67 L384.51 335.45 L384.77 336.23 L385.02 337.02 L385.27 337.80 L385.50 338.60 L385.72 339.41 L385.94 340.25 L386.15 341.09 L386.35 341.94 L386.55 342.77 L386.74 343.58 L386.92 344.36 L387.10 345.10 L387.28 345.82 L387.46 346.55 L387.63 347.27 L387.80 347.96 L387.96 348.59 L388.09 349.16 L388.21 349.63 L388.30 350.00" stroke="#00ffff" stroke-width="2.6" stroke-linecap="round" stroke-dasharray="0.01 6.652" stroke-dashoffset="1.33"/>
</g>
<path d="M420.7 101.7 H456.9" stroke="#ff0000" stroke-width="1.65"/>
<path d="M420.7 124.4 H456.9" stroke="#00ff00" stroke-width="1.65" stroke-dasharray="13 10.2"/>
<path d="M420.7 147.0 H456.9" stroke="#0000ff" stroke-width="1.65" stroke-dasharray="13 4.6 1.4 4.2"/>
<path d="M421.17 170.1 H456.9" stroke="#00ffff" stroke-width="2.6" stroke-linecap="round" stroke-dasharray="0.01 5.68"/>
<g transform="translate(466.60 107.00) scale(1 1.05)">
<text x="0.00" y="0.00" font-family="Liberation Sans, sans-serif" style="font-kerning:none" text-rendering="geometricPrecision" font-size="15" xml:space="preserve">J=0</text>
</g>
<g transform="translate(466.60 129.70) scale(1 1.05)">
<text x="0.00" y="0.00" font-family="Liberation Sans, sans-serif" style="font-kerning:none" text-rendering="geometricPrecision" font-size="15" xml:space="preserve">J=5</text>
</g>
<g transform="translate(466.60 152.30) scale(1 1.05)">
<text x="0.00" y="0.00" font-family="Liberation Sans, sans-serif" style="font-kerning:none" text-rendering="geometricPrecision" font-size="15">J=</text>
<path d="M21.64 0.00 L20.32 0.00 L20.32 -7.41 L17.77 -7.41 L17.77 -8.34 C19.26 -8.40 20.19 -8.97 20.64 -10.32 L21.64 -10.32 Z" fill="#000"/>
<text x="24.60" y="0.00" font-family="Liberation Sans, sans-serif" style="font-kerning:none" text-rendering="geometricPrecision" font-size="15" xml:space="preserve">0</text>
</g>
<g transform="translate(466.60 175.40) scale(1 1.05)">
<text x="0.00" y="0.00" font-family="Liberation Sans, sans-serif" style="font-kerning:none" text-rendering="geometricPrecision" font-size="15" xml:space="preserve">J=20</text>
</g>
<g transform="translate(107.45 383.60) scale(1 1.05)">
<text x="-7.31" y="0.00" font-family="Liberation Sans, sans-serif" style="font-kerning:none" text-rendering="geometricPrecision" font-size="26.3" xml:space="preserve">0</text>
</g>
<g transform="translate(205.43 383.60) scale(1 1.05)">
<path d="M2.13 0.00 L-0.19 0.00 L-0.19 -12.99 L-4.66 -12.99 L-4.66 -14.62 C-2.05 -14.73 -0.42 -15.73 0.37 -18.09 L2.13 -18.09 Z" fill="#000"/>
</g>
<g transform="translate(303.41 383.60) scale(1 1.05)">
<text x="-7.31" y="0.00" font-family="Liberation Sans, sans-serif" style="font-kerning:none" text-rendering="geometricPrecision" font-size="26.3" xml:space="preserve">2</text>
</g>
<g transform="translate(401.38 383.60) scale(1 1.05)">
<text x="-7.31" y="0.00" font-family="Liberation Sans, sans-serif" style="font-kerning:none" text-rendering="geometricPrecision" font-size="26.3" xml:space="preserve">3</text>
</g>
<g transform="translate(499.36 383.60) scale(1 1.05)">
<text x="-7.31" y="0.00" font-family="Liberation Sans, sans-serif" style="font-kerning:none" text-rendering="geometricPrecision" font-size="26.3" xml:space="preserve">4</text>
</g>
<g transform="translate(44.10 28.55) scale(1 1.05)">
<path d="M9.44 0.00 L7.13 0.00 L7.13 -12.99 L2.66 -12.99 L2.66 -14.62 C5.26 -14.73 6.89 -15.73 7.68 -18.09 L9.44 -18.09 Z" fill="#000"/>
<text x="14.63" y="0.00" font-family="Liberation Sans, sans-serif" style="font-kerning:none" text-rendering="geometricPrecision" font-size="26.3" xml:space="preserve">0</text>
<text x="28.95" y="-11.33" font-family="Liberation Sans, sans-serif" style="font-kerning:none" text-rendering="geometricPrecision" font-size="17.2" xml:space="preserve">0</text>
</g>
<g transform="translate(44.10 111.35) scale(1 1.05)">
<path d="M9.44 0.00 L7.13 0.00 L7.13 -12.99 L2.66 -12.99 L2.66 -14.62 C5.26 -14.73 6.89 -15.73 7.68 -18.09 L9.44 -18.09 Z" fill="#000"/>
<text x="14.63" y="0.00" font-family="Liberation Sans, sans-serif" style="font-kerning:none" text-rendering="geometricPrecision" font-size="26.3" xml:space="preserve">0</text>
<text x="28.95" y="-11.33" font-family="Liberation Sans, sans-serif" style="font-kerning:none" text-rendering="geometricPrecision" font-size="17.2">−</text>
<path d="M45.17 -11.33 L43.66 -11.33 L43.66 -19.83 L40.74 -19.83 L40.74 -20.90 C42.44 -20.97 43.50 -21.62 44.02 -23.17 L45.17 -23.17 Z" fill="#000"/>
</g>
<g transform="translate(44.10 194.15) scale(1 1.05)">
<path d="M9.44 0.00 L7.13 0.00 L7.13 -12.99 L2.66 -12.99 L2.66 -14.62 C5.26 -14.73 6.89 -15.73 7.68 -18.09 L9.44 -18.09 Z" fill="#000"/>
<text x="14.63" y="0.00" font-family="Liberation Sans, sans-serif" style="font-kerning:none" text-rendering="geometricPrecision" font-size="26.3" xml:space="preserve">0</text>
<text x="28.95" y="-11.33" font-family="Liberation Sans, sans-serif" style="font-kerning:none" text-rendering="geometricPrecision" font-size="17.2" xml:space="preserve">−2</text>
</g>
<g transform="translate(44.10 276.95) scale(1 1.05)">
<path d="M9.44 0.00 L7.13 0.00 L7.13 -12.99 L2.66 -12.99 L2.66 -14.62 C5.26 -14.73 6.89 -15.73 7.68 -18.09 L9.44 -18.09 Z" fill="#000"/>
<text x="14.63" y="0.00" font-family="Liberation Sans, sans-serif" style="font-kerning:none" text-rendering="geometricPrecision" font-size="26.3" xml:space="preserve">0</text>
<text x="28.95" y="-11.33" font-family="Liberation Sans, sans-serif" style="font-kerning:none" text-rendering="geometricPrecision" font-size="17.2" xml:space="preserve">−3</text>
</g>
<g transform="translate(275.10 421.60) scale(1 1.04)">
<text x="0.00" y="0.00" font-family="Liberation Sans, sans-serif" style="font-kerning:none" text-rendering="geometricPrecision" font-size="26.7" xml:space="preserve">E</text>
<text x="17.11" y="5.29" font-family="Liberation Sans, sans-serif" style="font-kerning:none" text-rendering="geometricPrecision" font-size="17.2" xml:space="preserve">n</text>
<text x="26.37" y="0.00" font-family="Liberation Sans, sans-serif" style="font-kerning:none" text-rendering="geometricPrecision" font-size="26.7" xml:space="preserve"> (MeV)</text>
</g>
<g transform="translate(23.80 287.10) rotate(-90) scale(1 1.04)">
<text x="0.00" y="0.00" font-family="Liberation Sans, sans-serif" style="font-kerning:none" text-rendering="geometricPrecision" font-size="26.7" xml:space="preserve">d</text>
<text transform="translate(15.75 0.00) scale(1.1 1)" x="0" y="0" font-family="Liberation Sans, sans-serif" style="font-kerning:none" text-rendering="geometricPrecision" font-size="26.7">σ</text>
<text x="31.33" y="0.00" font-family="Liberation Sans, sans-serif" style="font-kerning:none" text-rendering="geometricPrecision" font-size="26.7" xml:space="preserve">/dE</text>
<text x="70.70" y="5.29" font-family="Liberation Sans, sans-serif" style="font-kerning:none" text-rendering="geometricPrecision" font-size="17.2" xml:space="preserve">n</text>
<text x="79.97" y="0.00" font-family="Liberation Sans, sans-serif" style="font-kerning:none" text-rendering="geometricPrecision" font-size="26.7" xml:space="preserve"> (mb/MeV)</text>
</g>
<g transform="translate(371.90 44.10) scale(1 1.05)">
<text x="0.00" y="0.00" font-family="Liberation Sans, sans-serif" style="font-kerning:none" text-rendering="geometricPrecision" font-size="12.3" xml:space="preserve">238</text>
<text x="20.72" y="-1.52" font-family="Liberation Sans, sans-serif" style="font-kerning:none" text-rendering="geometricPrecision" font-size="9.840000000000002" xml:space="preserve">*</text>
</g>
<g transform="translate(397.70 52.30) scale(1 1.05)">
<text x="0.00" y="0.00" font-family="Liberation Sans, sans-serif" style="font-kerning:none" text-rendering="geometricPrecision" font-size="18.9">U (Ex=</text>
<path d="M65.07 0.00 L63.41 0.00 L63.41 -9.34 L60.20 -9.34 L60.20 -10.51 C62.07 -10.58 63.24 -11.30 63.81 -13.00 L65.07 -13.00 Z" fill="#000"/>
<text x="68.80" y="0.00" font-family="Liberation Sans, sans-serif" style="font-kerning:none" text-rendering="geometricPrecision" font-size="18.9" xml:space="preserve">0 MeV)</text>
</g>
</svg>
</body></html>
